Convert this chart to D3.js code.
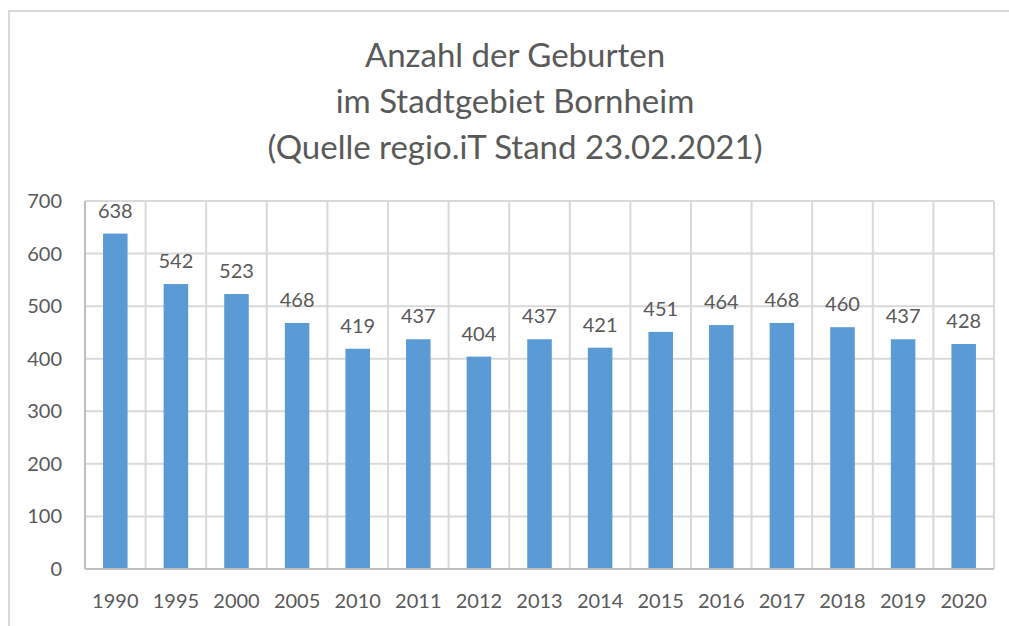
<!DOCTYPE html>
<html>
<head>
<meta charset="utf-8">
<script src="https://d3js.org/d3.v7.min.js"></script>
<style>
  body { margin: 0; background: #fff; }
  svg text { font-family: Lato, "Open Sans", sans-serif; fill: #595959; }
</style>
</head>
<body>
<svg id="chart" width="1009" height="626"></svg>
<script>
// data
const years = ["1990", "1995", "2000", "2005", "2010", "2011", "2012", "2013", "2014", "2015", "2016", "2017", "2018", "2019", "2020"];
const births = [638, 542, 523, 468, 419, 437, 404, 437, 421, 451, 464, 468, 460, 437, 428];
const yTicks = [0, 100, 200, 300, 400, 500, 600, 700];
const titleLines = ["Anzahl der Geburten", "im Stadtgebiet Bornheim", "(Quelle regio.iT Stand 23.02.2021)"];

const svg = d3.select("#chart");
const plotLeft = 85, plotRight = 994, plotTop = 201, plotBottom = 569;

// outer frame
svg.append("rect")
  .attr("x", 9).attr("y", 11)
  .attr("width", 1100).attr("height", 700)
  .attr("fill", "none")
  .attr("stroke", "#D9D9D9")
  .attr("stroke-width", 2);

// title
svg.append("g").selectAll("text")
  .data(titleLines)
  .enter().append("text")
  .attr("x", 515)
  .attr("y", (d, i) => 67 + i * 46)
  .attr("text-anchor", "middle")
  .style("font-size", "33px")
  .text(d => d);

var x = d3.scaleBand().domain(years).range([plotLeft, plotRight]).paddingInner(0).paddingOuter(0);
var y = d3.scaleLinear().domain([0, 700]).range([plotBottom, plotTop]);

// horizontal grid
svg.append("g").selectAll("line")
  .data(yTicks.filter(d => d > 0))
  .enter().append("line")
  .attr("x1", plotLeft).attr("x2", plotRight)
  .attr("y1", d => y(d)).attr("y2", d => y(d))
  .attr("stroke", "#D9D9D9").attr("stroke-width", 2);

// vertical grid at category boundaries
svg.append("g").selectAll("line")
  .data(years)
  .enter().append("line")
  .attr("x1", d => x(d) + x.bandwidth()).attr("x2", d => x(d) + x.bandwidth())
  .attr("y1", plotTop).attr("y2", plotBottom)
  .attr("stroke", "#D9D9D9").attr("stroke-width", 2);

// axis lines
svg.append("line")
  .attr("x1", plotLeft).attr("x2", plotLeft).attr("y1", plotTop).attr("y2", plotBottom)
  .attr("stroke", "#BFBFBF").attr("stroke-width", 2);
svg.append("line")
  .attr("x1", plotLeft).attr("x2", plotRight).attr("y1", plotBottom).attr("y2", plotBottom)
  .attr("stroke", "#BFBFBF").attr("stroke-width", 2);

// y tick labels
svg.append("g").selectAll("text")
  .data(yTicks)
  .enter().append("text")
  .attr("x", 62)
  .attr("y", d => y(d) + 7)
  .attr("text-anchor", "end")
  .style("font-size", "20px")
  .text(d => d);

// x tick labels
svg.append("g").selectAll("text")
  .data(years)
  .enter().append("text")
  .attr("x", d => x(d) + x.bandwidth() / 2)
  .attr("y", 608)
  .attr("text-anchor", "middle")
  .style("font-size", "20px")
  .text(d => d);

// bars
var barW = x.bandwidth() * 0.405;
svg.append("g").selectAll("rect")
  .data(births)
  .enter().append("rect")
  .attr("x", (d, i) => x(years[i]) + x.bandwidth() / 2 - barW / 2)
  .attr("y", d => y(d))
  .attr("width", barW)
  .attr("height", d => plotBottom - 1 - y(d))
  .attr("fill", "#5B9BD5");

// value labels
svg.append("g").selectAll("text")
  .data(births)
  .enter().append("text")
  .attr("x", (d, i) => x(years[i]) + x.bandwidth() / 2)
  .attr("y", d => y(d) - 16)
  .attr("text-anchor", "middle")
  .style("font-size", "20px")
  .text(d => d);
</script>
</body>
</html>
